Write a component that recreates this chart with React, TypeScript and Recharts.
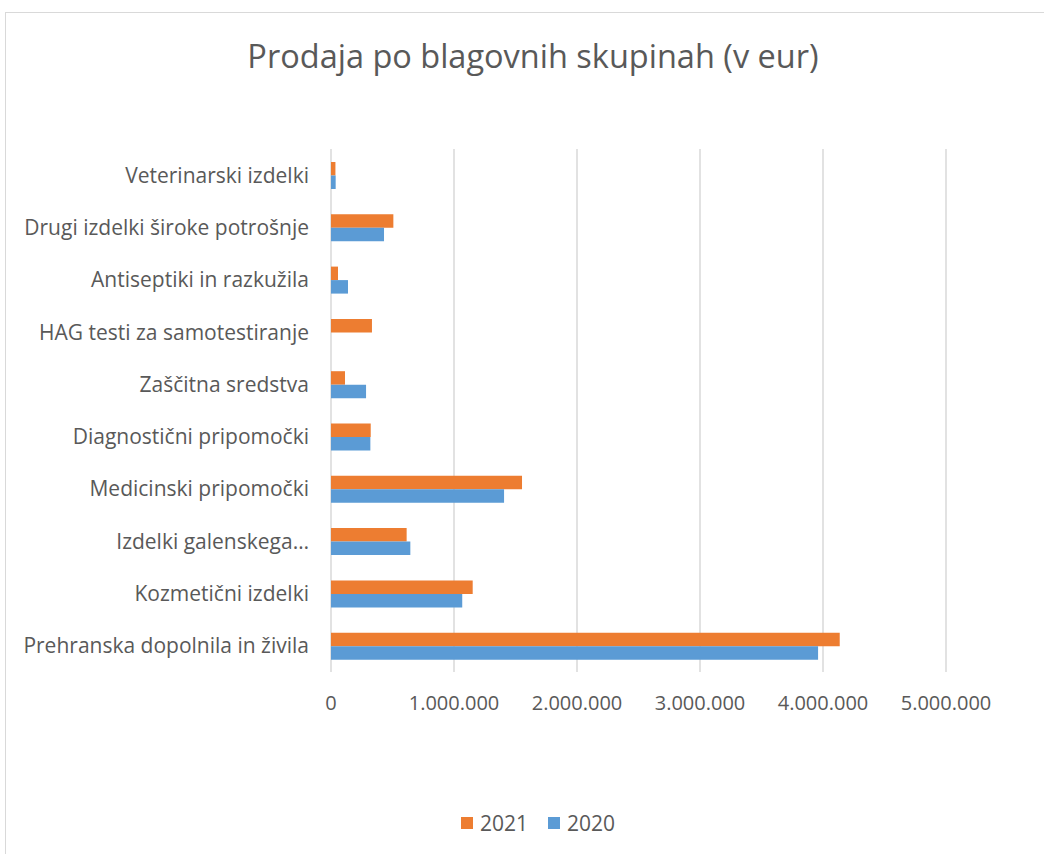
import React from 'react';
import { BarChart, Bar, XAxis, YAxis, CartesianGrid } from 'recharts';

const categories = [
  'Veterinarski izdelki',
  'Drugi izdelki široke potrošnje',
  'Antiseptiki in razkužila',
  'HAG testi za samotestiranje',
  'Zaščitna sredstva',
  'Diagnostični pripomočki',
  'Medicinski pripomočki',
  'Izdelki galenskega…',
  'Kozmetični izdelki',
  'Prehranska dopolnila in živila',
];
const values2021 = [36000, 507000, 57000, 333000, 114000, 323000, 1553000, 615000, 1152000, 4136000];
const values2020 = [38000, 431000, 138000, 0, 285000, 320000, 1407000, 645000, 1067000, 3960000];
const xTicks = [0, 1000000, 2000000, 3000000, 4000000, 5000000];
const series = [
  { key: 'y2021', name: '2021', color: '#ED7D31' },
  { key: 'y2020', name: '2020', color: '#5B9BD5' },
];

const data = categories.map((name, i) => ({ name, y2021: values2021[i], y2020: values2020[i] }));

const fmt = (v: number) => String(v).replace(/\B(?=(\d{3})+(?!\d))/g, '.');

const FONT = '"Open Sans", "Noto Sans", sans-serif';
const TEXT = '#595959';

export default function App() {
  return (
    <div style={{ position: 'absolute', left: 0, top: 0, width: 1044, height: 854, overflow: 'hidden', background: '#fff' }}>
      <div style={{ position: 'absolute', left: 5, top: 12, width: 1100, height: 900, border: '1px solid #d9d9d9' }} />
      <div style={{ position: 'absolute', left: 0, top: 34, width: 1066, textAlign: 'center', fontFamily: FONT, fontSize: 32.5, color: TEXT, lineHeight: '44px' }}>
        Prodaja po blagovnih skupinah (v eur)
      </div>
      <div style={{ position: 'absolute', left: 0, top: 0 }}>
        <BarChart
          width={1044}
          height={854}
          data={data}
          layout="vertical"
          margin={{ top: 149, right: 98, bottom: 142, left: 0 }}
          barGap={0}
          barSize={13.5}
        >
          <CartesianGrid horizontal={false} stroke="#d9d9d9" strokeWidth={1.5} />
          <XAxis
            type="number"
            domain={[0, 5000000]}
            ticks={xTicks}
            tickFormatter={fmt}
            axisLine={false}
            tickLine={false}
            tickMargin={18}
            height={40}
            tick={{ fill: TEXT, fontSize: 20, fontFamily: FONT }}
          />
          <YAxis
            type="category"
            dataKey="name"
            width={331}
            axisLine={false}
            tickLine={false}
            tickMargin={16}
            interval={0}
            tick={{ fill: TEXT, fontSize: 21, fontFamily: FONT }}
          />
          {series.map((s) => (
            <Bar key={s.key} dataKey={s.key} name={s.name} fill={s.color} isAnimationActive={false} />
          ))}
        </BarChart>
      </div>
      <div
        style={{
          position: 'absolute',
          left: 0,
          top: 808,
          width: 1076,
          display: 'flex',
          justifyContent: 'center',
          gap: 20,
          fontFamily: FONT,
          fontSize: 21,
          color: TEXT,
          lineHeight: '30px',
        }}
      >
        {series.map((s) => (
          <div key={s.key} style={{ display: 'flex', alignItems: 'center' }}>
            <span style={{ display: 'inline-block', width: 12, height: 12, background: s.color, marginRight: 7 }} />
            <span>{s.name}</span>
          </div>
        ))}
      </div>
    </div>
  );
}
